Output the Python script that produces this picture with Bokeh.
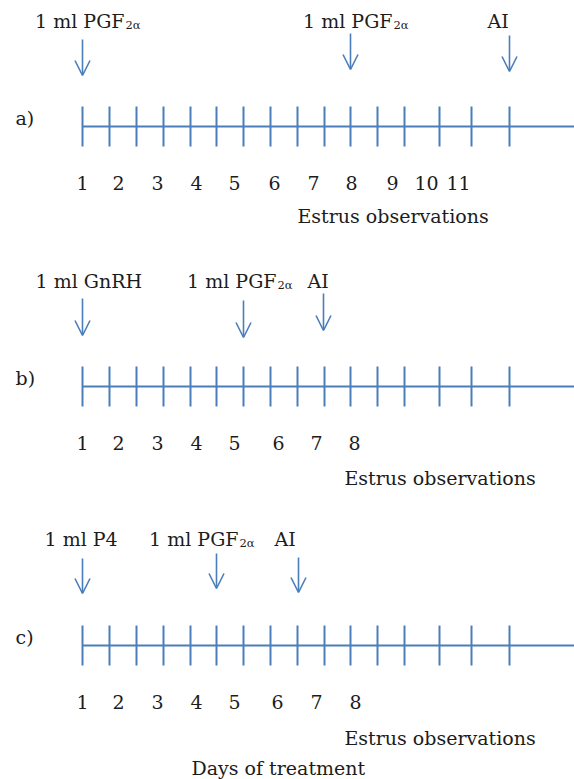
from bokeh.plotting import figure
from bokeh.models import ColumnDataSource, Arrow, OpenHead, Range1d
from bokeh.core.properties import value
from bokeh.embed import file_html
from bokeh.resources import INLINE

# ---------------- data ----------------
panel_names = ["a)", "b)", "c)"]
panel_y = [126, 386, 645]          # vertical position of each timeline
tick_x = [82, 109, 136, 163, 190, 216, 243, 270, 297, 324, 350, 377, 404, 439, 471, 509]
line_start, line_end = 82, 580

day_labels = [
    ["1", "2", "3", "4", "5", "6", "7", "8", "9", "10", "11"],
    ["1", "2", "3", "4", "5", "6", "7", "8"],
    ["1", "2", "3", "4", "5", "6", "7", "8"],
]
day_label_x = [
    [82, 118, 157, 196, 234, 274, 313, 351, 392, 426, 458],
    [82, 118, 157, 196, 234, 278, 316, 354],
    [82, 118, 157, 196, 234, 277, 316, 355],
]

treat_text = [
    ["1 ml PGF", "1 ml PGF", "AI"],
    ["1 ml GnRH", "1 ml PGF", "AI"],
    ["1 ml P4", "1 ml PGF", "AI"],
]
treat_sub = [
    ["2α", "2α", ""],
    ["", "2α", ""],
    ["", "2α", ""],
]
treat_x = [          # right edge of main text if subscript follows, else left edge
    [124, 392, 487],
    [35, 276, 307],
    [44, 238, 274],
]
treat_label_y = [20, 280, 538]
arrow_x = [
    [82, 350, 509],
    [82, 243, 323],
    [82, 216, 298],
]
arrow_top = [
    [39, 33, 35],
    [298, 300, 293],
    [558, 553, 557],
]
arrow_len = [36, 37, 35]

estrus_text = "Estrus observations"
estrus_x = [297, 344, 344]
estrus_y = [215, 477, 737]
footer_text = "Days of treatment"
footer_x, footer_y = 191, 767

# ---------------- style ----------------
BLUE = "#4A7EBB"
INK = "#1c1c1c"
FONT = value("DejaVu Serif")
FS = "19px"
SUBFS = "11.5px"

W, H = 574, 779
p = figure(width=W, height=H, x_range=Range1d(0, W), y_range=Range1d(H, 0),
           output_backend="svg", toolbar_location=None, min_border=0,
           x_axis_location=None, y_axis_location=None)
p.grid.visible = False
p.outline_line_color = None
p.background_fill_color = "white"

for i, name in enumerate(panel_names):
    y0 = panel_y[i]
    p.segment(x0=[line_start], y0=[y0], x1=[line_end], y1=[y0], line_color=BLUE, line_width=2)
    p.segment(x0=tick_x, y0=[y0 - 20] * len(tick_x), x1=tick_x, y1=[y0 + 20] * len(tick_x),
              line_color=BLUE, line_width=2)
    p.text(x=[15], y=[y0 - 9], text=[name], text_font=FONT, text_font_size=FS,
           text_color=INK, text_baseline="middle", text_align="left")
    p.text(x=day_label_x[i], y=[y0 + 56] * len(day_label_x[i]), text=day_labels[i],
           text_font=FONT, text_font_size=FS, text_color=INK,
           text_baseline="middle", text_align="center")
    p.text(x=[estrus_x[i]], y=[estrus_y[i]], text=[estrus_text], text_font=FONT,
           text_font_size=FS, text_color=INK, text_baseline="middle", text_align="left")
    for j, t in enumerate(treat_text[i]):
        sub = treat_sub[i][j]
        ly = treat_label_y[i]
        if sub:
            p.text(x=[treat_x[i][j]], y=[ly], text=[t], text_font=FONT, text_font_size=FS,
                   text_color=INK, text_baseline="middle", text_align="right")
            p.text(x=[treat_x[i][j] + 1], y=[ly + 4], text=[sub], text_font=FONT,
                   text_font_size=SUBFS, text_color=INK, text_baseline="middle", text_align="left")
        else:
            p.text(x=[treat_x[i][j]], y=[ly], text=[t], text_font=FONT, text_font_size=FS,
                   text_color=INK, text_baseline="middle", text_align="left")
    src = ColumnDataSource(dict(x=arrow_x[i], y0=arrow_top[i],
                                y1=[a + arrow_len[i] for a in arrow_top[i]]))
    p.add_layout(Arrow(end=OpenHead(size=15, line_color=BLUE, line_width=1.6),
                       x_start="x", y_start="y0", x_end="x", y_end="y1", source=src,
                       line_color=BLUE, line_width=1.6))

p.text(x=[footer_x], y=[footer_y], text=[footer_text], text_font=FONT, text_font_size=FS,
       text_color=INK, text_baseline="middle", text_align="left")

open("out.html", "w").write(file_html(p, INLINE))
